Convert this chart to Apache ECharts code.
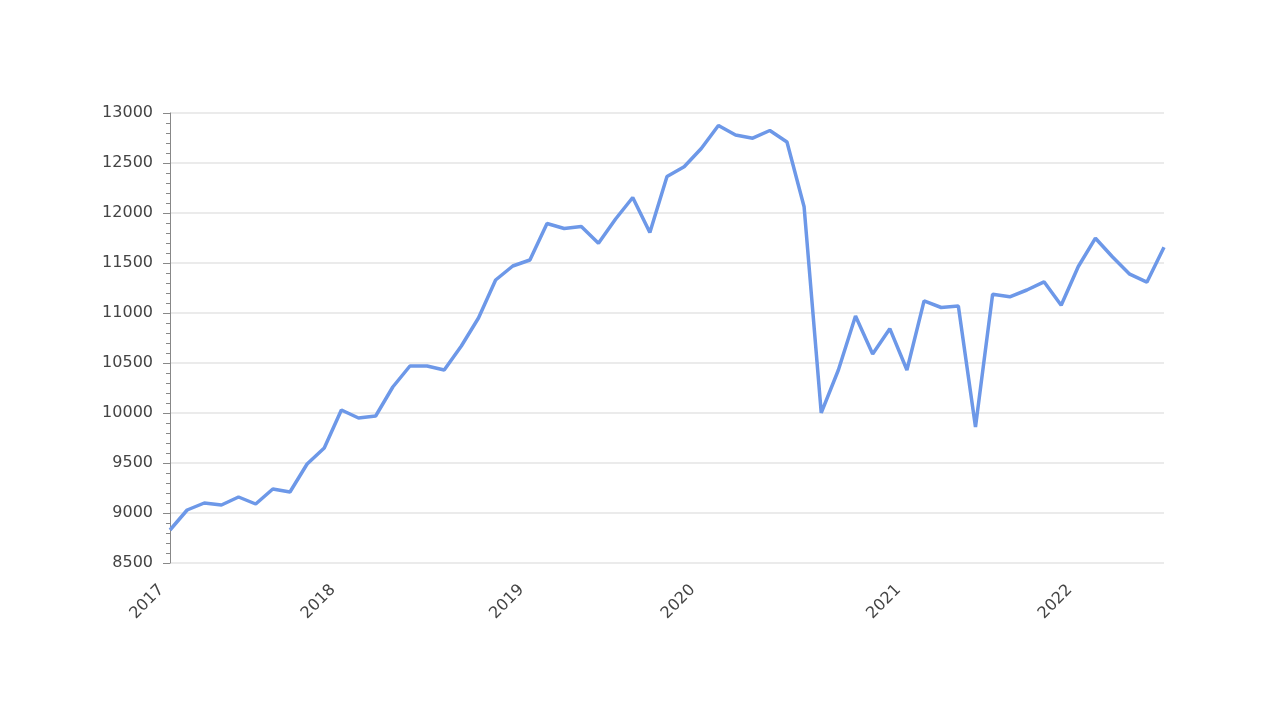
<!DOCTYPE html>
<html>
<head>
<meta charset="utf-8">
<script src="https://cdn.jsdelivr.net/npm/echarts@6/dist/echarts.min.js"></script>
<style>
html,body{margin:0;padding:0;background:#fff;}
#chart{width:1280px;height:720px;}
</style>
</head>
<body>
<div id="chart"></div>
<script>
var dates = [
  '2017-01','2017-02','2017-03','2017-04','2017-05','2017-06','2017-08','2017-09','2017-10','2017-11',
  '2018-01','2018-02','2018-03','2018-04','2018-05','2018-06','2018-07','2018-08','2018-09','2018-10','2018-12',
  '2019-01','2019-02','2019-03','2019-04','2019-06','2019-07','2019-08','2019-09','2019-10','2019-11',
  '2020-01','2020-02','2020-03','2020-04','2020-05','2020-06','2020-07','2020-08','2020-09','2020-10','2020-11','2020-12',
  '2021-01','2021-02','2021-03','2021-04','2021-05','2021-07','2021-08','2021-09','2021-10','2021-11',
  '2022-01','2022-02','2022-03','2022-04','2022-05','2022-06'
];
var values = [
  8830, 9030, 9100, 9080, 9160, 9090, 9240, 9210, 9490, 9650,
  10030, 9950, 9970, 10260, 10470, 10470, 10430, 10670, 10950, 11330, 11470,
  11530, 11895, 11845, 11865, 11697, 11940, 12155, 11805, 12365, 12462,
  12645, 12875, 12780, 12748, 12825, 12710, 12062, 10002, 10430, 10970, 10590, 10843,
  10430, 11122, 11055, 11070, 9860, 11188, 11162, 11230, 11312, 11078,
  11465, 11748, 11560, 11388, 11308, 11658
];
var yMin = 8500, yMax = 13000, yStep = 500;

var chart = echarts.init(document.getElementById('chart'));
chart.setOption({
  animation: false,
  grid: { left: 170, right: 116, top: 113, bottom: 157, containLabel: false },
  xAxis: {
    type: 'category',
    data: dates,
    boundaryGap: false,
    axisLine: { show: false },
    axisTick: { show: false },
    splitLine: { show: false },
    axisLabel: {
      rotate: 45,
      margin: 16,
      padding: [0, 12, 0, 0],
      color: '#444',
      fontFamily: 'DejaVu Sans',
      fontSize: 16,
      interval: function (i, v) {
        return i === 0 || dates[i].slice(0, 4) !== dates[i - 1].slice(0, 4);
      },
      formatter: function (v) { return v.slice(0, 4); }
    }
  },
  yAxis: {
    type: 'value',
    min: yMin, max: yMax, interval: yStep,
    axisLine: { show: true, lineStyle: { color: '#888', width: 1 } },
    axisTick: { show: true, length: 7, lineStyle: { color: '#888' } },
    minorTick: { show: true, splitNumber: 5, length: 4, lineStyle: { color: '#888' } },
    splitLine: { show: true, lineStyle: { color: '#e4e4e4', width: 1.5 } },
    axisLabel: {
      color: '#444', fontFamily: 'DejaVu Sans', fontSize: 16, margin: 17,
      formatter: function (v) { return String(v); }
    }
  },
  series: [{
    type: 'line',
    data: values,
    showSymbol: false,
    symbol: 'none',
    lineStyle: { color: '#6d98e8', width: 3.5 }
  }]
});
</script>
</body>
</html>
